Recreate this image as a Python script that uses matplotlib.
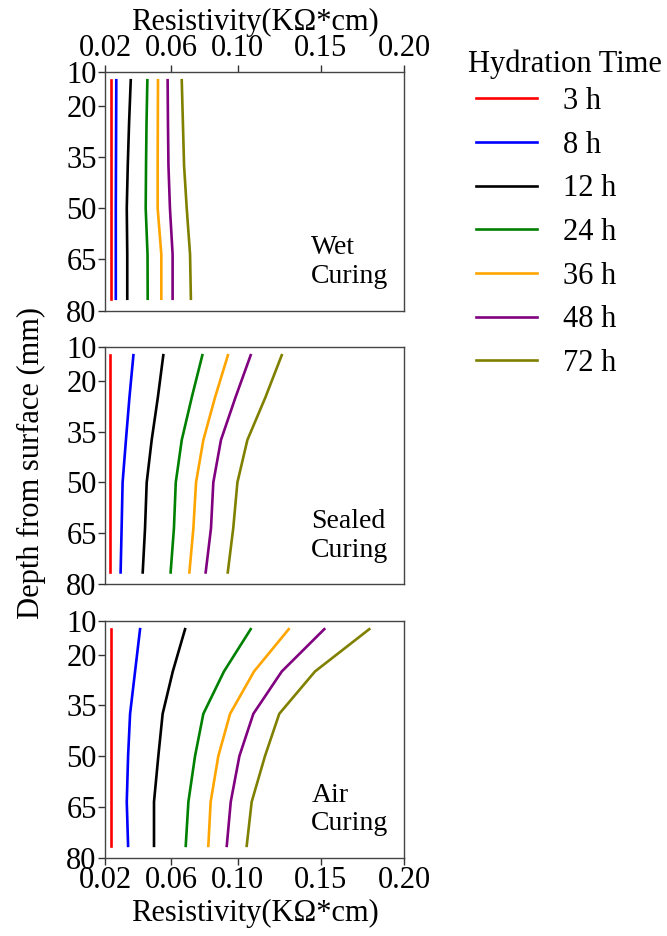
import matplotlib
matplotlib.use("Agg")
import matplotlib.pyplot as plt

plt.rcParams['font.family'] = ['Liberation Serif', 'DejaVu Serif']

# depth of each measuring point (mm)
depth = [12.5, 25, 37.5, 50, 63.5, 76.5]

hours = ['3 h', '8 h', '12 h', '24 h', '36 h', '48 h', '72 h']
colors = ['red', 'blue', 'black', 'green', 'orange', 'purple', 'olive']

# resistivity (KOhm*cm) per hydration time
wet = [
    [0.0234, 0.0234, 0.0234, 0.0234, 0.0234, 0.0234],
    [0.0268, 0.0267, 0.0266, 0.0265, 0.0265, 0.0265],
    [0.0355, 0.0345, 0.0337, 0.0331, 0.0334, 0.0334],
    [0.0455, 0.0450, 0.0447, 0.0445, 0.0456, 0.0457],
    [0.0519, 0.0518, 0.0517, 0.0517, 0.0539, 0.0539],
    [0.0577, 0.0579, 0.0582, 0.0591, 0.0607, 0.0607],
    [0.0662, 0.0669, 0.0676, 0.0692, 0.0712, 0.0717],
]
sealed = [
    [0.0231, 0.0231, 0.0231, 0.0231, 0.0231, 0.0231],
    [0.0371, 0.0347, 0.0326, 0.0306, 0.0300, 0.0294],
    [0.0551, 0.0518, 0.0481, 0.0451, 0.0441, 0.0427],
    [0.0786, 0.0722, 0.0662, 0.0626, 0.0615, 0.0595],
    [0.0940, 0.0862, 0.0792, 0.0748, 0.0732, 0.0708],
    [0.1077, 0.0985, 0.0898, 0.0852, 0.0838, 0.0806],
    [0.1264, 0.1165, 0.1057, 0.0997, 0.0972, 0.0939],
]
air = [
    [0.0236, 0.0236, 0.0236, 0.0236, 0.0236, 0.0236],
    [0.0411, 0.0381, 0.0351, 0.0339, 0.0331, 0.0339],
    [0.0682, 0.0608, 0.0547, 0.0521, 0.0495, 0.0495],
    [0.1077, 0.0916, 0.0792, 0.0742, 0.0702, 0.0686],
    [0.1306, 0.1097, 0.0953, 0.0882, 0.0836, 0.0822],
    [0.1520, 0.1264, 0.1093, 0.1009, 0.0957, 0.0933],
    [0.1791, 0.1464, 0.1249, 0.1163, 0.1083, 0.1053],
]

panels = [(wet, 'Wet\nCuring'), (sealed, 'Sealed\nCuring'), (air, 'Air\nCuring')]
xticks = [0.02, 0.06, 0.10, 0.15, 0.20]
yticks = [10, 20, 35, 50, 65, 80]

fig = plt.figure(figsize=(6.67, 9.36), dpi=100)
W, H = 667, 936
# panel boxes in pixels: top, bottom
boxes = [(71.7, 310.7), (346.7, 584.3), (620.7, 857.7)]
left, right = 105, 404

fs = 22
for i, ((data, name), (top, bot)) in enumerate(zip(panels, boxes)):
    ax = fig.add_axes([left / W, 1 - bot / H, (right - left) / W, (bot - top) / H])
    for vals, c, lab in zip(data, colors, hours):
        ax.plot(vals, depth, color=c, lw=1.9, label=lab)
    ax.set_xlim(0.02, 0.20)
    ax.set_ylim(80, 10)
    ax.set_yticks(yticks)
    ax.set_xticks(xticks)
    ax.set_xticklabels(['%.2f' % t for t in xticks])
    ax.tick_params(labelsize=fs, length=5, width=1, colors='#333333',
                   labelcolor='black', pad=1)
    for s in ax.spines.values():
        s.set_color('#444444')
        s.set_linewidth(1.0)
    if i == 0:
        ax.xaxis.tick_top()
        ax.xaxis.set_label_position('top')
        ax.set_xlabel('Resistivity(KΩ*cm)', fontsize=fs, labelpad=3)
    elif i == 1:
        ax.set_xticks([])
    else:
        ax.set_xlabel('Resistivity(KΩ*cm)', fontsize=fs, labelpad=3)
    ax.text(0.69, 0.09, name, transform=ax.transAxes, fontsize=fs - 2,
            ha='left', va='bottom', linespacing=1.2)
    if i == 0:
        handles, labels = ax.get_legend_handles_labels()

fig.text(31 / W, 1 - 463 / H, 'Depth from surface (mm)', rotation=90,
         fontsize=fs, ha='center', va='center')

fig.text(468 / W, 1 - 64 / H, 'Hydration Time', fontsize=fs,
         ha='left', va='center')
fig.legend(handles, labels, loc='upper left',
           bbox_to_anchor=(476 / W, 1 - 87 / H), frameon=False,
           fontsize=fs, handlelength=2.0, handletextpad=0.85,
           labelspacing=0.48, borderpad=0, borderaxespad=0)

fig.savefig('out.png', dpi=100)
